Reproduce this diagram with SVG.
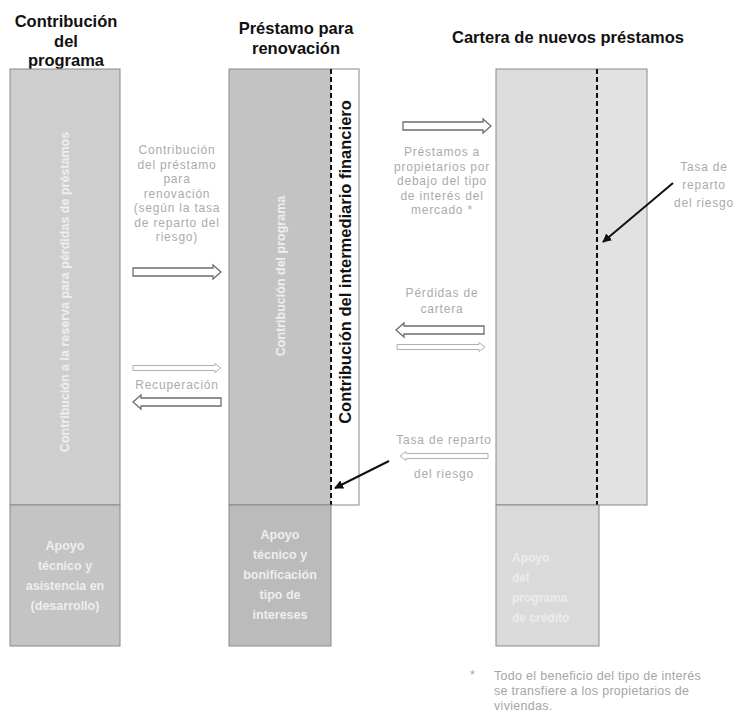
<svg xmlns="http://www.w3.org/2000/svg" width="736" height="713" viewBox="0 0 736 713">
<style>
.title{font-family:"Liberation Sans",Arial,sans-serif;font-size:16.5px;font-weight:bold;fill:#111;text-anchor:middle}
.lbl{font-family:"Liberation Sans",Arial,sans-serif;font-size:12px;letter-spacing:0.8px;fill:#ababab;text-anchor:middle}
.inner{font-family:"Liberation Sans",Arial,sans-serif;font-size:12.5px;font-weight:bold;fill:#eeeeee;text-anchor:middle}
.faint{font-family:"Liberation Sans",Arial,sans-serif;font-size:12px;font-weight:bold;fill:#ececec}
.box{stroke:#8a8a8a;stroke-width:1}
.harrow{fill:#fff;stroke:#6e6e6e;stroke-width:1.3}
.tarrow{fill:#fff;stroke:#b0b0b0;stroke-width:1}
.dash{stroke:#111;stroke-width:2;stroke-dasharray:5,3}
.foot{font-family:"Liberation Sans",Arial,sans-serif;font-size:12.5px;letter-spacing:0.3px;fill:#a5a5a5}
</style>
<defs>
<path id="ha" d="M0,-4 H80 V-7 L88,0 L80,7 V4 H0 Z"/>
<path id="ta" d="M0,-2.5 H82 V-4.5 L88,0 L82,4.5 V2.5 H0 Z"/>
<marker id="ah" viewBox="0 0 10 10" refX="9" refY="5" markerWidth="9" markerHeight="9" orient="auto" markerUnits="userSpaceOnUse">
<path d="M0,0 L10,5 L0,10 Z" fill="#111"/>
</marker>
</defs>
<rect width="736" height="713" fill="#fff"/>

<g id="titulos">
<text class="title" x="66" y="27">Contribución</text>
<text class="title" x="66" y="47">del</text>
<text class="title" x="66" y="66">programa</text>
<text class="title" x="296" y="34">Préstamo para</text>
<text class="title" x="296" y="54">renovación</text>
<text class="title" x="568" y="43" font-size="17">Cartera de nuevos préstamos</text>
</g>

<g id="col-programa">
<rect class="box" x="10" y="69" width="110" height="436" fill="#cecece"/>
<text class="inner" font-size="14.5" transform="translate(69,292) rotate(-90)">Contribución a la reserva para pérdidas de préstamos</text>
</g>
<g id="apoyo-programa">
<rect class="box" x="10" y="505" width="110" height="141" fill="#c4c4c4"/>
<text class="inner" x="65" y="550">Apoyo</text>
<text class="inner" x="65" y="570">técnico y</text>
<text class="inner" x="65" y="590">asistencia en</text>
<text class="inner" x="65" y="610">(desarrollo)</text>
</g>

<g id="col-prestamo">
<rect x="229" y="69" width="102" height="436" fill="#c3c3c3"/>
<rect x="331" y="69" width="28" height="436" fill="#fff"/>
<rect class="box" x="229" y="69" width="130" height="436" fill="none"/>
<line class="dash" x1="331" y1="69" x2="331" y2="505"/>
<text class="inner" font-size="16" transform="translate(285,276) rotate(-90)">Contribución del programa</text>
<text class="title" font-size="15" transform="translate(351,262) rotate(-90)">Contribución del intermediario financiero</text>
</g>
<g id="apoyo-prestamo">
<rect class="box" x="229" y="505" width="102" height="141" fill="#bbbbbb"/>
<text class="inner" x="280" y="539">Apoyo</text>
<text class="inner" x="280" y="559">técnico y</text>
<text class="inner" x="280" y="579">bonificación</text>
<text class="inner" x="280" y="599">tipo de</text>
<text class="inner" x="280" y="619">intereses</text>
</g>

<g id="col-cartera">
<rect x="496" y="69" width="101" height="436" fill="#dcdcdc"/>
<rect x="597" y="69" width="50" height="436" fill="#e2e2e2"/>
<rect class="box" x="496" y="69" width="151" height="436" fill="none"/>
<line class="dash" x1="597" y1="69" x2="597" y2="505"/>
</g>
<g id="apoyo-cartera">
<rect class="box" x="496" y="505" width="103" height="141" fill="#dadada"/>
<text class="faint" x="512" y="562">Apoyo</text>
<text class="faint" x="512" y="582">del</text>
<text class="faint" x="512" y="602">programa</text>
<text class="faint" x="512" y="622">de crédito</text>
</g>

<g id="conectores">
<use href="#ha" class="harrow" transform="translate(133,272)"/>
<use href="#ta" class="tarrow" transform="translate(133,368)"/>
<use href="#ha" class="harrow" transform="translate(221,402) scale(-1,1)"/>
<use href="#ha" class="harrow" transform="translate(403,126)"/>
<use href="#ha" class="harrow" transform="translate(484,330) scale(-1,1)"/>
<use href="#ta" class="tarrow" transform="translate(397,347)"/>
<use href="#ta" class="tarrow" transform="translate(488,456) scale(-1,1)"/>
<line x1="389" y1="461" x2="335" y2="488" stroke="#111" stroke-width="2" marker-end="url(#ah)"/>
<line x1="673" y1="183" x2="603" y2="242" stroke="#111" stroke-width="2" marker-end="url(#ah)"/>
</g>

<g id="etiquetas">
<text class="lbl" x="177" y="154">Contribución</text>
<text class="lbl" x="177" y="168.5">del préstamo</text>
<text class="lbl" x="177" y="183">para</text>
<text class="lbl" x="177" y="197.5">renovación</text>
<text class="lbl" x="177" y="212">(según la tasa</text>
<text class="lbl" x="177" y="226.5">de reparto del</text>
<text class="lbl" x="177" y="241">riesgo)</text>
<text class="lbl" x="177" y="389">Recuperación</text>
<text class="lbl" x="442" y="156">Préstamos a</text>
<text class="lbl" x="442" y="170.5">propietarios por</text>
<text class="lbl" x="442" y="185">debajo del tipo</text>
<text class="lbl" x="442" y="199.5">de interés del</text>
<text class="lbl" x="442" y="214">mercado *</text>
<text class="lbl" x="442" y="297">Pérdidas de</text>
<text class="lbl" x="442" y="313">cartera</text>
<text class="lbl" x="444" y="444">Tasa de reparto</text>
<text class="lbl" x="444" y="478">del riesgo</text>
<text class="lbl" x="704" y="171">Tasa de</text>
<text class="lbl" x="704" y="189">reparto</text>
<text class="lbl" x="704" y="207">del riesgo</text>
</g>

<g id="nota">
<text class="foot" x="470" y="679">*</text>
<text class="foot" x="494" y="680">Todo el beneficio del tipo de interés</text>
<text class="foot" x="494" y="695">se transfiere a los propietarios de</text>
<text class="foot" x="494" y="710">viviendas.</text>
</g>
</svg>
